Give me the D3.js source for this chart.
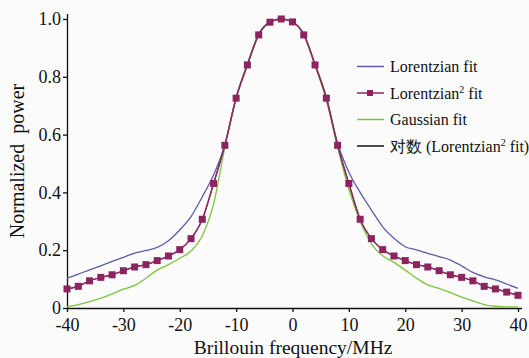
<!DOCTYPE html>
<html>
<head>
<meta charset="utf-8">
<script src="https://cdn.jsdelivr.net/npm/d3@7"></script>
<style>
  body { margin: 0; background: #fbfbfb; }
  svg { display: block; }
  text { fill: #111; }
</style>
</head>
<body>
<svg id="chart" width="529" height="358"></svg>
<script>
// frequency points (MHz), one every 2 MHz
var freqs = d3.range(-40, 41, 2);

// Lorentzian fit
var lorentz = [0.103, 0.117, 0.132, 0.146, 0.161, 0.175, 0.190, 0.199, 0.210, 0.233,
  0.270, 0.316, 0.385, 0.460, 0.565, 0.730, 0.845, 0.948, 0.990, 1.0,
  0.990, 0.948, 0.845, 0.730, 0.570, 0.470, 0.400, 0.339, 0.281, 0.241,
  0.212, 0.201, 0.189, 0.178, 0.166, 0.146, 0.123, 0.108, 0.097, 0.083, 0.068];

// Lorentzian^2 fit (with markers)
var lorentz2 = [0.066, 0.075, 0.094, 0.106, 0.115, 0.129, 0.142, 0.150, 0.164, 0.180,
  0.202, 0.240, 0.307, 0.431, 0.563, 0.726, 0.841, 0.945, 0.989, 1.0,
  0.990, 0.945, 0.841, 0.726, 0.563, 0.431, 0.307, 0.240, 0.202, 0.180,
  0.164, 0.150, 0.142, 0.129, 0.115, 0.106, 0.094, 0.075, 0.066, 0.055, 0.044];

// Gaussian fit
var gauss = [0.005, 0.012, 0.022, 0.034, 0.049, 0.065, 0.078, 0.103, 0.131, 0.150,
  0.172, 0.197, 0.250, 0.360, 0.556, 0.726, 0.840, 0.945, 0.990, 1.0,
  0.990, 0.945, 0.840, 0.720, 0.556, 0.410, 0.300, 0.222, 0.181, 0.158,
  0.131, 0.103, 0.080, 0.068, 0.053, 0.038, 0.025, 0.012, 0.006, 0.004, 0.004];

var xTicks = [-40, -30, -20, -10, 0, 10, 20, 30, 40];
var yTicks = [0, 0.2, 0.4, 0.6, 0.8, 1.0];

var serif = "'Liberation Serif', 'DejaVu Serif', serif";
var svg = d3.select("#chart");

var x = d3.scaleLinear().domain([-40, 40]).range([67, 518]);
var y = d3.scaleLinear().domain([0, 1]).range([308, 19]);

// axes
var xAxis = svg.append("g")
  .attr("transform", "translate(0,308)")
  .call(d3.axisBottom(x).tickValues(xTicks).tickSize(4).tickSizeOuter(0)
    .tickFormat(function (d) { return d < 0 ? "-" + Math.abs(d) : d; }));
xAxis.select(".domain").attr("d", "M67,0.5H522");

var yAxis = svg.append("g")
  .attr("transform", "translate(67,0)")
  .call(d3.axisLeft(y).tickValues(yTicks).tickSize(4).tickSizeOuter(0)
    .tickFormat(function (d) { return d === 0 ? "0" : d3.format(".1f")(d); }));
yAxis.select(".domain").attr("d", "M0.5,14V308");

svg.selectAll("g").attr("font-family", serif).attr("font-size", 18);
svg.selectAll(".tick text").attr("fill", "#111");
xAxis.selectAll(".tick text").attr("dy", "0.9em");
yAxis.selectAll(".tick text").attr("x", -6);
svg.selectAll(".domain, .tick line").attr("stroke", "#111").attr("stroke-width", 1.3);

// axis titles
svg.append("text")
  .attr("x", 293).attr("y", 354)
  .attr("text-anchor", "middle")
  .attr("font-family", serif)
  .attr("font-size", 19.5)
  .text("Brillouin frequency/MHz");

svg.append("text")
  .attr("transform", "translate(24,161) rotate(-90)")
  .attr("text-anchor", "middle")
  .attr("font-family", serif)
  .attr("font-size", 20)
  .style("white-space", "pre")
  .text("Normalized  power");

// lines
function lineFor(vals) {
  return d3.line()
    .x(function (d, i) { return x(freqs[i]); })
    .y(function (d) { return y(d); })
    .curve(d3.curveMonotoneX)(vals);
}

svg.append("path").attr("d", lineFor(lorentz))
  .attr("fill", "none").attr("stroke", "#5a5ea8").attr("stroke-width", 1.3);
svg.append("path").attr("d", lineFor(lorentz2))
  .attr("fill", "none").attr("stroke", "#111").attr("stroke-width", 1);
svg.append("path").attr("d", lineFor(gauss))
  .attr("fill", "none").attr("stroke", "#7cc63a").attr("stroke-width", 1.3);
svg.append("path").attr("d", lineFor(lorentz2))
  .attr("fill", "none").attr("stroke", "#8e2a5e").attr("stroke-width", 1.5);

svg.selectAll("rect.mk")
  .data(lorentz2)
  .enter()
  .append("rect")
  .attr("class", "mk")
  .attr("x", function (d, i) { return x(freqs[i]) - 3.5; })
  .attr("y", function (d) { return y(d) - 3.5; })
  .attr("width", 7).attr("height", 7)
  .attr("fill", "#8b2460");

// legend
var legendItems = [
  { label: "Lorentzian fit", color: "#5a5ea8", marker: false },
  { label: "Lorentzian", sup: "2", after: " fit", color: "#8e2a5e", marker: true },
  { label: "Gaussian fit", color: "#7cc63a", marker: false },
  { label: "对数 (Lorentzian", sup: "2", after: " fit)", color: "#111", marker: false }
];

var lg = svg.append("g");
legendItems.forEach(function (d, i) {
  var yy = 66.5 + i * 26.5;
  lg.append("line")
    .attr("x1", 357).attr("x2", 384).attr("y1", yy).attr("y2", yy)
    .attr("stroke", d.color).attr("stroke-width", 1.5);
  if (d.marker) {
    lg.append("rect").attr("x", 367).attr("y", yy - 3).attr("width", 6).attr("height", 6)
      .attr("fill", "#8b2460");
  }
  var t = lg.append("text")
    .attr("x", 390).attr("y", yy + 5.5)
    .attr("font-family", serif)
    .attr("font-size", 16);
  t.append("tspan").text(d.label);
  if (d.sup) {
    t.append("tspan").attr("dy", -6).attr("font-size", 10).text(d.sup);
    t.append("tspan").attr("dy", 6).text(d.after);
  }
});
</script>
</body>
</html>
